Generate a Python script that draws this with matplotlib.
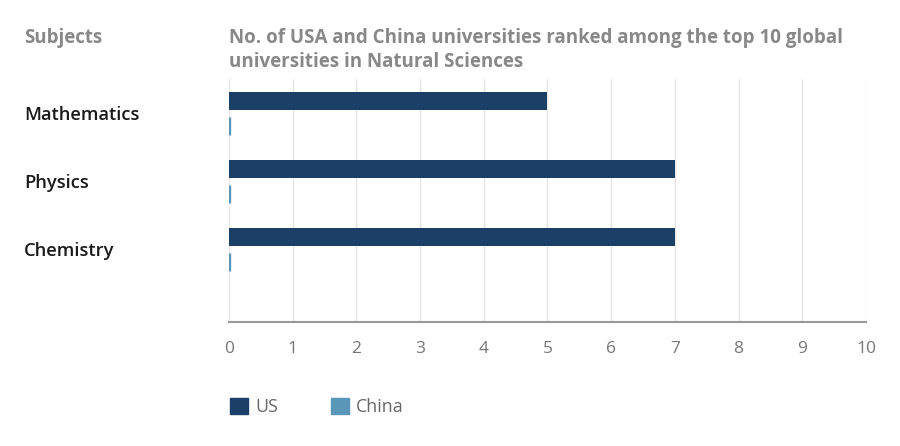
import numpy as np
import matplotlib.pyplot as plt
import matplotlib.transforms as mtransforms
from matplotlib.patches import Patch

plt.rcParams['font.family'] = ['Open Sans', 'DejaVu Sans']

# Dados
subjects = ['Mathematics', 'Physics', 'Chemistry']
us = [5, 7, 7]
china = [0, 0, 0]
xticks = list(range(0, 11))

cor_us = '#1b3f66'
cor_china = '#5a96b8'

fig = plt.figure(figsize=(9, 4.46), dpi=100)
ax = fig.add_axes([229/900, 1 - 322/446, (866 - 229)/900, (322 - 79)/446])

y = np.arange(len(subjects))
h = 0.265
ax.barh(y - 0.18, us, height=h, color=cor_us, zorder=3)
ax.barh(y + 0.19, china, height=h, color=cor_china, edgecolor=cor_china,
        linewidth=2.4, zorder=3)

ax.set_xlim(0, 10)
ax.set_ylim(3.07, -0.5)
ax.set_xticks(xticks)
ax.set_xticklabels([str(v) for v in xticks], fontsize=12.5, color='#777777')
ax.tick_params(axis='x', length=0, pad=14)
ax.set_yticks([])
ax.grid(axis='x', color='#e6e6e6', linewidth=1, zorder=0)
for s in ['top', 'right', 'left']:
    ax.spines[s].set_visible(False)
ax.spines['bottom'].set_color('#999999')
ax.spines['bottom'].set_linewidth(1.5)
ax.spines['bottom'].set_zorder(4)

# Rótulos das categorias
trans = mtransforms.blended_transform_factory(fig.transFigure, ax.transData)
for i, s in enumerate(subjects):
    ax.text(24/900, i + 0.03, s, transform=trans, ha='left', va='center',
            fontsize=13.2, fontweight='semibold', color='#1a1a1a')

# Títulos
fig.text(24/900, 1 - 38.5/446, 'Subjects', ha='left', va='center',
         fontsize=13.4, fontweight='bold', color='#888888')
fig.text(229/900, 1 - 50/446,
         'No. of USA and China universities ranked among the top 10 global\nuniversities in Natural Sciences',
         ha='left', va='center', fontsize=13.5, fontweight='bold',
         color='#888888', linespacing=1.25)

# Legenda
handles = [Patch(color=cor_us, label='US'), Patch(color=cor_china, label='China')]
fig.legend(handles=handles, loc='center left',
           bbox_to_anchor=(214/900, 1 - 407/446), ncol=2, frameon=False,
           handlelength=1.0, handleheight=1.0, handletextpad=0.4,
           columnspacing=3.0, prop={'size': 12.8})
for t in fig.legends[0].get_texts():
    t.set_color('#666666')

fig.savefig('out.png', dpi=100)
